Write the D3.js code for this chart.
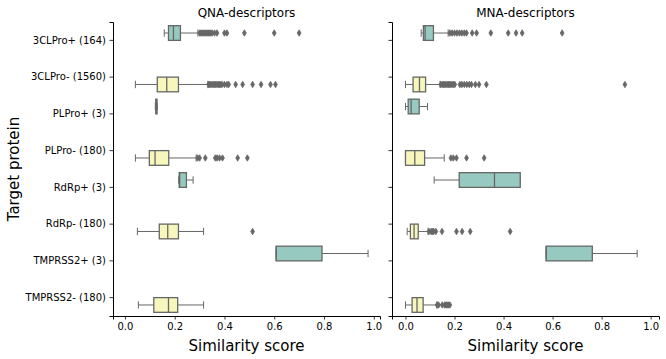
<!DOCTYPE html>
<html><head><meta charset="utf-8">
<script src="https://cdn.jsdelivr.net/npm/d3@7"></script>
<style>body{margin:0;background:#fff}svg{display:block;font-family:"DejaVu Sans",sans-serif}</style>
</head><body><svg id="c" width="666" height="359"></svg>
<script>
const categories = ["3CLPro+ (164)","3CLPro- (1560)","PLPro+ (3)","PLPro- (180)","RdRp+ (3)","RdRp- (180)","TMPRSS2+ (3)","TMPRSS2- (180)"];
const hue = ["+","-","+","-","+","-","+","-"];
const xTicks = [0,0.2,0.4,0.6,0.8,1.0];
// [whiskerLow, q1, median, q3, whiskerHigh]
const qnaStats = [
  [0.158,0.175,0.195,0.223,0.293],
  [0.042,0.130,0.168,0.215,0.333],
  [0.122,0.124,0.126,0.129,0.130],
  [0.042,0.098,0.121,0.176,0.286],
  [0.216,0.218,0.220,0.247,0.274],
  [0.050,0.138,0.172,0.215,0.316],
  [0.608,0.608,0.608,0.792,0.977],
  [0.054,0.116,0.175,0.212,0.316]
];
const qnaOutliers = [
  [0.30,0.305,0.31,0.315,0.32,0.325,0.33,0.335,0.34,0.345,0.35,0.36,0.37,0.40,0.41,0.48,0.60,0.70],
  [0.336,0.34,0.345,0.35,0.355,0.36,0.365,0.37,0.375,0.38,0.385,0.39,0.40,0.41,0.417,0.445,0.473,0.513,0.547,0.585,0.605],
  [],
  [0.292,0.30,0.323,0.363,0.37,0.38,0.392,0.453,0.492],
  [],
  [0.513],
  [],
  []
];
const mnaStats = [
  [0.064,0.073,0.080,0.114,0.174],
  [0.000,0.031,0.057,0.082,0.141],
  [0.000,0.011,0.023,0.056,0.090],
  [0.000,0.000,0.038,0.078,0.158],
  [0.117,0.219,0.363,0.468,0.468],
  [0.007,0.020,0.035,0.052,0.092],
  [0.574,0.574,0.574,0.762,0.945],
  [0.000,0.027,0.047,0.072,0.128]
];
const mnaOutliers = [
  [0.181,0.19,0.20,0.21,0.22,0.23,0.24,0.249,0.272,0.29,0.348,0.419,0.451,0.476,0.639],
  [0.144,0.15,0.155,0.16,0.165,0.17,0.175,0.18,0.185,0.19,0.195,0.201,0.222,0.23,0.24,0.25,0.26,0.269,0.285,0.30,0.33,0.895],
  [],
  [0.185,0.195,0.208,0.249,0.321],
  [],
  [0.096,0.105,0.11,0.115,0.124,0.149,0.208,0.231,0.264,0.427],
  [],
  [0.129,0.135,0.15,0.16,0.165,0.17,0.175,0.181]
];
const panels = [
  {title:"QNA-descriptors", stats:qnaStats, outliers:qnaOutliers, x0:113, x1:380, domain:[-0.048,1.025], labels:true},
  {title:"MNA-descriptors", stats:mnaStats, outliers:mnaOutliers, x0:392, x1:659, domain:[-0.055,1.034], labels:false}
];
const colors = {"+":"#96c9bf","-":"#f7f7bd"};
const grey = "#676767";
const svg = d3.select("#c");
const plotTop = 22, plotBottom = 316;
const y = d3.scaleBand().domain(categories).range([plotTop,plotBottom]).padding(0);
const bw = y.bandwidth()*0.4;

panels.forEach(p=>{
  const x = d3.scaleLinear().domain(p.domain).range([p.x0,p.x1]);
  const g = svg.append("g");
  const xa = g.append("g").attr("transform",`translate(0,${plotBottom})`)
    .call(d3.axisBottom(x).tickValues(xTicks).tickFormat(d3.format(".1f")).tickSizeOuter(0).tickSize(3.5).tickPadding(3.5));
  const ya = g.append("g").attr("transform",`translate(${p.x0},0)`)
    .call(d3.axisLeft(y).tickSizeOuter(0).tickSize(3.5).tickPadding(3.5));
  if(!p.labels) ya.selectAll("text").remove();
  [xa,ya].forEach(a=>{
    a.selectAll("text").attr("font-size",10).attr("fill","#000").attr("font-family","DejaVu Sans");
    a.selectAll("line").attr("stroke","#000").attr("stroke-width",0.8);
    a.select(".domain").attr("stroke","#000").attr("stroke-width",1);
  });
  g.append("text").attr("x",(p.x0+p.x1)/2).attr("y",17).attr("text-anchor","middle")
    .attr("font-size",12).text(p.title);
  g.append("text").attr("x",(p.x0+p.x1)/2).attr("y",351).attr("text-anchor","middle")
    .attr("font-size",15).text("Similarity score");

  categories.forEach((c,i)=>{
    const s = p.stats[i];
    const cy = y(c)+y.bandwidth()/2;
    const yb0 = hue[i]==="+" ? cy-bw : cy;
    const ym = yb0+bw/2;
    const bg = g.append("g");
    bg.append("line").attr("x1",x(s[0])).attr("x2",x(s[1])).attr("y1",ym).attr("y2",ym).attr("stroke",grey).attr("stroke-width",1);
    bg.append("line").attr("x1",x(s[3])).attr("x2",x(s[4])).attr("y1",ym).attr("y2",ym).attr("stroke",grey).attr("stroke-width",1);
    [s[0],s[4]].forEach(v=>{
      bg.append("line").attr("x1",x(v)).attr("x2",x(v)).attr("y1",ym-bw/4).attr("y2",ym+bw/4).attr("stroke",grey).attr("stroke-width",1);
    });
    bg.append("rect").attr("x",x(s[1])).attr("y",yb0).attr("width",Math.max(0.5,x(s[3])-x(s[1]))).attr("height",bw)
      .attr("fill",colors[hue[i]]).attr("stroke",grey).attr("stroke-width",1.3);
    bg.append("line").attr("x1",x(s[2])).attr("x2",x(s[2])).attr("y1",yb0).attr("y2",yb0+bw).attr("stroke",grey).attr("stroke-width",1.3);
    p.outliers[i].forEach(v=>{
      const px = x(v);
      bg.append("path").attr("d",`M${px},${ym-3.2}L${px+1.9},${ym}L${px},${ym+3.2}L${px-1.9},${ym}Z`)
        .attr("fill",grey).attr("stroke",grey).attr("stroke-width",0.8);
    });
  });
});
svg.append("text").attr("transform","translate(19,169) rotate(-90)").attr("text-anchor","middle")
  .attr("font-size",15).text("Target protein");
</script></body></html>
